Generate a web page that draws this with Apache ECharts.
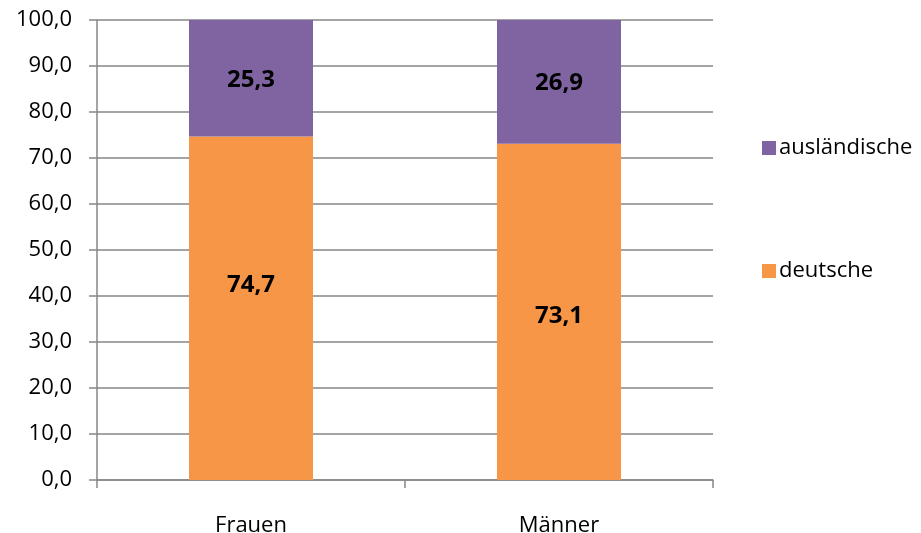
<!DOCTYPE html>
<html><head><meta charset="utf-8">
<script src="https://cdn.jsdelivr.net/npm/echarts@6/dist/echarts.min.js"></script>
<style>html,body{margin:0;padding:0;background:#fff}#c{width:921px;height:533px}</style>
</head><body><div id="c"></div>
<script>
const categories = ['Frauen', 'Männer'];
const deutsche = [74.7, 73.1];
const auslaendische = [25.3, 26.9];
const yTicks = [0, 10, 20, 30, 40, 50, 60, 70, 80, 90, 100];

const font = 'Open Sans, Liberation Sans, sans-serif';
const fmt = v => v.toFixed(1).replace('.', ',');
const gridColor = '#868686';
const labelOffsets = { deutsche: [[0, -23], [0, 4]], auslaendische: [[0, 2], [0, 1]] };

const chart = echarts.init(document.getElementById('c'));
chart.setOption({
  animation: false,
  grid: { left: 97, right: 208, top: 20, bottom: 53, outerBoundsMode: 'none', containLabel: false },
  legend: {
    orient: 'vertical', left: 757, top: 132, itemGap: 101,
    itemWidth: 14, itemHeight: 14, icon: 'rect',
    data: ['ausländische', 'deutsche'],
    textStyle: { fontFamily: font, fontSize: 22, color: '#000', padding: [0, 0, 0, -2] }
  },
  xAxis: {
    type: 'category', data: categories,
    axisLine: { lineStyle: { color: gridColor, width: 1.5 } },
    axisTick: { show: true, length: 8, lineStyle: { color: gridColor, width: 1.5 } },
    axisLabel: { margin: 35, fontFamily: font, fontSize: 22, color: '#000' }
  },
  yAxis: {
    type: 'value', min: yTicks[0], max: yTicks[yTicks.length - 1], interval: 10,
    axisLine: { show: true, lineStyle: { color: gridColor, width: 1.5 } },
    axisTick: { show: true, length: 8, lineStyle: { color: gridColor, width: 1.5 } },
    splitLine: { lineStyle: { color: gridColor, width: 1.5 } },
    axisLabel: { margin: 25, fontFamily: font, fontSize: 22, color: '#000', formatter: v => fmt(v) }
  },
  series: [
    {
      name: 'deutsche', type: 'bar', stack: 't', barWidth: 124,
      itemStyle: { color: '#F79646' },
      data: deutsche.map((v, i) => ({ value: v, label: { offset: labelOffsets.deutsche[i] } })),
      label: { show: true, position: 'inside', fontFamily: font, fontWeight: 'bold', fontSize: 24, color: '#000', formatter: p => fmt(p.value) }
    },
    {
      name: 'ausländische', type: 'bar', stack: 't', barWidth: 124,
      itemStyle: { color: '#8064A2' },
      data: auslaendische.map((v, i) => ({ value: v, label: { offset: labelOffsets.auslaendische[i] } })),
      label: { show: true, position: 'inside', fontFamily: font, fontWeight: 'bold', fontSize: 24, color: '#000', formatter: p => fmt(p.value) }
    }
  ]
});
</script></body></html>
